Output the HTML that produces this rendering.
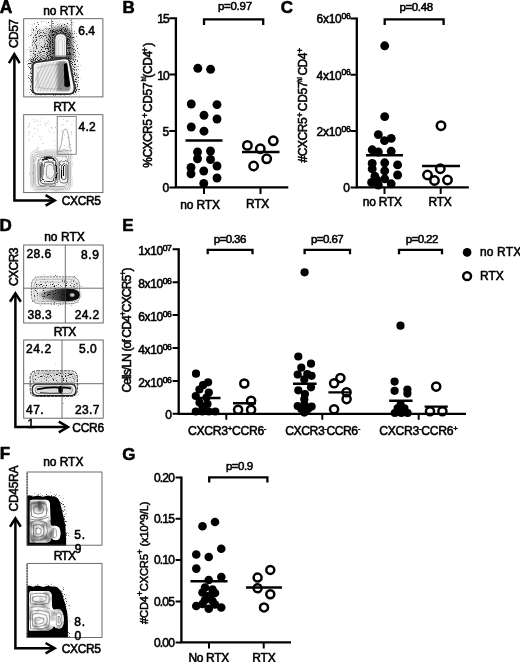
<!DOCTYPE html>
<html><head><meta charset="utf-8"><title>Figure</title>
<style>
html,body{margin:0;padding:0;background:#fff;}
body{width:520px;height:662px;overflow:hidden;}
svg{display:block;font-family:"Liberation Sans",Arial,Helvetica,sans-serif;}
text{stroke:#000;stroke-width:0.55px;stroke-linejoin:round;}
.ax{stroke:#000;stroke-width:2.3;fill:none;stroke-linecap:butt;}
.tk{stroke:#000;stroke-width:2;fill:none;}
.ar{stroke:#000;stroke-width:2.5;fill:none;}
.box{stroke:#5a5a5a;stroke-width:0.9;fill:none;}
.gate{stroke:#4c4c4c;stroke-width:0.8;fill:none;}
.f{fill:#000;}
.o{fill:none;stroke:#000;stroke-width:2.5;}
.m{stroke:#000;stroke-width:2.4;}
</style></head><body>
<svg width="520" height="662" viewBox="0 0 520 662">
<rect width="520" height="662" fill="#fff"/>
<defs>

<filter id="spk" x="-15%" y="-15%" width="130%" height="130%" color-interpolation-filters="sRGB">
<feGaussianBlur in="SourceAlpha" stdDeviation="1.6" result="d"/>
<feTurbulence type="fractalNoise" baseFrequency="0.93" numOctaves="1" seed="5" result="n"/>
<feColorMatrix in="n" type="matrix" values="0 0 0 0 0  0 0 0 0 0  0 0 0 0 0  1 0 0 0 0" result="na"/>
<feComposite in="na" in2="d" operator="arithmetic" k1="0" k2="1" k3="0.45" k4="-0.78" result="s"/>
<feComponentTransfer in="s" result="s2"><feFuncA type="linear" slope="6" intercept="0"/></feComponentTransfer>
<feComponentTransfer in="s2"><feFuncA type="linear" slope="0.82" intercept="0"/></feComponentTransfer>
</filter>
<filter id="spk2" x="-15%" y="-15%" width="130%" height="130%" color-interpolation-filters="sRGB">
<feGaussianBlur in="SourceAlpha" stdDeviation="1.2" result="d"/>
<feTurbulence type="fractalNoise" baseFrequency="0.9" numOctaves="1" seed="11" result="n"/>
<feColorMatrix in="n" type="matrix" values="0 0 0 0 0  0 0 0 0 0  0 0 0 0 0  1 0 0 0 0" result="na"/>
<feComposite in="na" in2="d" operator="arithmetic" k1="0" k2="1" k3="0.45" k4="-0.78" result="s"/>
<feComponentTransfer in="s"><feFuncA type="linear" slope="6" intercept="0"/></feComponentTransfer>
</filter>
<filter id="wob" x="-10%" y="-10%" width="120%" height="120%"><feTurbulence type="fractalNoise" baseFrequency="0.13" numOctaves="2" seed="2" result="t"/><feDisplacementMap in="SourceGraphic" in2="t" scale="3.2" xChannelSelector="R" yChannelSelector="G"/></filter>
<filter id="wob2" x="-10%" y="-10%" width="120%" height="120%"><feTurbulence type="fractalNoise" baseFrequency="0.2" numOctaves="2" seed="7" result="t"/><feDisplacementMap in="SourceGraphic" in2="t" scale="1.6" xChannelSelector="R" yChannelSelector="G"/></filter>
<filter id="tex1" x="0" y="0" width="100%" height="100%" color-interpolation-filters="sRGB"><feTurbulence type="fractalNoise" baseFrequency="0.11 0.09" numOctaves="2" seed="4"/><feColorMatrix type="matrix" values="1.7 0 0 0 0.02  1.7 0 0 0 0.02  1.7 0 0 0 0.02  0 0 0 0 1"/><feComposite in2="SourceAlpha" operator="in"/></filter>
<filter id="tex2" x="0" y="0" width="100%" height="100%" color-interpolation-filters="sRGB"><feTurbulence type="fractalNoise" baseFrequency="0.09 0.11" numOctaves="2" seed="9"/><feColorMatrix type="matrix" values="1.5 0 0 0 0.16  1.5 0 0 0 0.16  1.5 0 0 0 0.16  0 0 0 0 1"/><feComposite in2="SourceAlpha" operator="in"/></filter>
<filter id="fb" x="-20%" y="-20%" width="140%" height="140%"><feGaussianBlur stdDeviation="0.7"/></filter>
<filter id="fb2" x="-30%" y="-30%" width="160%" height="160%"><feGaussianBlur stdDeviation="1.6"/></filter>
<filter id="fb3" x="-30%" y="-30%" width="160%" height="160%"><feGaussianBlur stdDeviation="0.45"/></filter>
</defs>
<g id="fA1">
<clipPath id="cA1"><rect x="24" y="19" width="78.5" height="77.5"/></clipPath>
<g clip-path="url(#cA1)">
<path d="M34 30L70 24L76 58L78 93L33 95L30 60Z" fill="#000" fill-opacity="0.13" filter="url(#fb2)"/>
<path d="M48 60V36Q48 27 60.5 27Q73 27 73 38V60Z" fill="#000" fill-opacity="0.36" filter="url(#fb2)"/>
<g filter="url(#spk)">
<path d="M28 21L74 20L81 60L81 95L29 96L26 62Z" fill="#000" fill-opacity="0.4"/>
<path d="M34 28L71 22L77 58L79 94L32 95L29 60Z" fill="#000" fill-opacity="0.27"/>
<path d="M40 50L50 34L72 30L76 58L40 62Z" fill="#000" fill-opacity="0.2"/>
<path d="M49.5 60V36Q49.5 28 60.5 28Q71.5 28 71.5 38V60Z" fill="#000" fill-opacity="0.5"/>
<path d="M29 58L70 52L78 90L74 96H32L29 90Z" fill="#000" fill-opacity="0.5"/>
</g>
<path d="M32.8 66Q33 62.6 36.5 62L64 58.4Q68.6 58 69.4 61.5L74.4 86Q75.4 94 69 94.2H37.5Q32.6 94 32.6 88.5Z" fill="#fbfbfb" stroke="#333" stroke-width="1.8" filter="url(#fb3)"/>
<path d="M35 66.5Q35.2 64.4 37.5 64L63 60.8Q66.4 60.6 67 63L70.6 86Q71.2 91.4 67 91.6H39Q35 91.4 35 88Z" fill="#e9e9e9"/>
<clipPath id="cA1i"><path d="M35 66.5Q35.2 64.4 37.5 64L63 60.8Q66.4 60.6 67 63L70.6 86Q71.2 91.4 67 91.6H39Q35 91.4 35 88Z"/></clipPath>
<g clip-path="url(#cA1i)">
<g fill="none" stroke="#9c9c9c" stroke-width="0.55" filter="url(#wob2)">
<path d="M30.0 92L44.0 62"/>
<path d="M33.3 92L47.3 62"/>
<path d="M36.6 92L50.6 62"/>
<path d="M39.9 92L53.9 62"/>
<path d="M43.2 92L57.2 62"/>
<path d="M46.5 92L60.5 62"/>
<path d="M49.8 92L63.8 62"/>
<path d="M53.1 92L67.1 62"/>
<path d="M56.4 92L70.4 62"/>
<path d="M37 68Q48 64 60 64.5M37 87Q48 90 62 88.5M38 72Q37 80 38.5 86"/>
</g>
<path d="M57 61L68 60L72 92L57 92Z" fill="#333" fill-opacity="0.5" filter="url(#fb2)"/>
<path d="M44 90.8H68" stroke="#222" stroke-width="2.2" filter="url(#fb)"/>
</g>
<path d="M63.8 64.2Q65.5 62.6 67.2 63.6L70.2 85.5Q67.5 88.5 64.4 86Z" fill="#000" filter="url(#fb3)"/>
<path d="M54.8 57V39.5Q54.8 33.6 60.6 33.6Q66.5 33.6 66.5 39.5V57Z" fill="#f6f6f6" stroke="#333" stroke-width="1"/>
<g fill="none" stroke="#aaa" stroke-width="0.5">
<path d="M56.8 56V41Q56.8 36 60.6 36Q64.5 36 64.5 41V56"/><path d="M58.8 56V43Q58.8 39 60.6 39Q62.5 39 62.5 43V56"/>
</g>
</g></g>
<g id="fA2">
<clipPath id="cA2"><rect x="24" y="115" width="78.5" height="77"/></clipPath>
<g clip-path="url(#cA2)">
<g fill="#bbb">
<circle cx="37.6" cy="121.5" r="0.55"/>
<circle cx="44.8" cy="123.3" r="0.55"/>
<circle cx="30.0" cy="131.7" r="0.55"/>
<circle cx="68.3" cy="145.2" r="0.55"/>
<circle cx="61.4" cy="125.5" r="0.55"/>
<circle cx="51.2" cy="127.4" r="0.55"/>
<circle cx="34.8" cy="121.6" r="0.55"/>
<circle cx="36.6" cy="149.5" r="0.55"/>
<circle cx="64.3" cy="145.4" r="0.55"/>
<circle cx="63.0" cy="124.6" r="0.55"/>
<circle cx="40.9" cy="139.3" r="0.55"/>
<circle cx="59.9" cy="147.1" r="0.55"/>
<circle cx="66.6" cy="120.9" r="0.55"/>
<circle cx="54.3" cy="140.8" r="0.55"/>
<circle cx="49.8" cy="124.0" r="0.55"/>
<circle cx="48.3" cy="121.0" r="0.55"/>
<circle cx="69.1" cy="147.4" r="0.55"/>
<circle cx="51.6" cy="128.2" r="0.55"/>
<circle cx="67.9" cy="137.5" r="0.55"/>
<circle cx="66.7" cy="146.8" r="0.55"/>
<circle cx="49.9" cy="132.1" r="0.55"/>
<circle cx="54.0" cy="132.7" r="0.55"/>
<circle cx="34.3" cy="128.4" r="0.55"/>
<circle cx="63.6" cy="119.5" r="0.55"/>
<circle cx="29.1" cy="139.3" r="0.55"/>
<circle cx="39.6" cy="136.2" r="0.55"/>
<circle cx="48.2" cy="129.7" r="0.55"/>
<circle cx="71.9" cy="124.6" r="0.55"/>
<circle cx="45.6" cy="124.9" r="0.55"/>
<circle cx="55.5" cy="127.4" r="0.55"/>
<circle cx="43.0" cy="143.4" r="0.55"/>
<circle cx="41.4" cy="137.0" r="0.55"/>
<circle cx="67.7" cy="121.4" r="0.55"/>
<circle cx="29.8" cy="125.8" r="0.55"/>
<circle cx="61.4" cy="138.9" r="0.55"/>
<circle cx="37.7" cy="129.3" r="0.55"/>
<circle cx="35.0" cy="133.6" r="0.55"/>
<circle cx="28.9" cy="141.7" r="0.55"/>
<circle cx="67.3" cy="150.5" r="0.55"/>
<circle cx="60.1" cy="150.6" r="0.55"/>
<circle cx="27.8" cy="127.8" r="0.55"/>
<circle cx="70.5" cy="144.4" r="0.55"/>
<circle cx="45.5" cy="150.1" r="0.55"/>
<circle cx="54.9" cy="145.8" r="0.55"/>
<circle cx="40.2" cy="124.5" r="0.55"/>
<circle cx="47.0" cy="122.6" r="0.55"/>
<circle cx="44.2" cy="150.7" r="0.55"/>
<circle cx="41.9" cy="118.3" r="0.55"/>
<circle cx="29.0" cy="123.8" r="0.55"/>
<circle cx="62.3" cy="130.3" r="0.55"/>
<circle cx="40.1" cy="121.3" r="0.55"/>
<circle cx="71.2" cy="132.4" r="0.55"/>
<circle cx="36.4" cy="120.0" r="0.55"/>
<circle cx="29.5" cy="123.7" r="0.55"/>
<circle cx="57.5" cy="123.1" r="0.55"/>
<circle cx="28.8" cy="134.7" r="0.55"/>
<circle cx="38.2" cy="151.9" r="0.55"/>
<circle cx="32.5" cy="136.0" r="0.55"/>
<circle cx="61.8" cy="131.9" r="0.55"/>
<circle cx="71.4" cy="134.2" r="0.55"/>
<circle cx="37.9" cy="132.0" r="0.55"/>
<circle cx="28.7" cy="132.3" r="0.55"/>
<circle cx="38.2" cy="148.2" r="0.55"/>
<circle cx="64.4" cy="135.0" r="0.55"/>
<circle cx="28.4" cy="126.6" r="0.55"/>
<circle cx="37.9" cy="125.1" r="0.55"/>
<circle cx="37.4" cy="147.6" r="0.55"/>
<circle cx="33.4" cy="119.7" r="0.55"/>
<circle cx="68.8" cy="137.2" r="0.55"/>
<circle cx="71.6" cy="131.7" r="0.55"/>
</g>
<path d="M38.5 151.0H64.0Q71.0 151.0 71.0 158.0V183.0Q71.0 190.0 64.0 190.0H38.5Q31.5 190.0 31.5 183.0V158.0Q31.5 151.0 38.5 151.0Z" fill="#f3f3f3"/>
<g fill="none" stroke="#8a8a8a" stroke-width="0.6" filter="url(#wob)">
<path d="M37.6 150.0H65.0Q72.0 150.0 72.0 157.0V184.0Q72.0 191.0 65.0 191.0H37.6Q30.6 191.0 30.6 184.0V157.0Q30.6 150.0 37.6 150.0Z" stroke="#b5b5b5"/>
<path d="M38.0 152.0H64.5Q70.5 152.0 70.5 158.0V183.5Q70.5 189.5 64.5 189.5H38.0Q32.0 189.5 32.0 183.5V158.0Q32.0 152.0 38.0 152.0Z" stroke="#999"/>
<path d="M39.0 154.0H63.5Q69.0 154.0 69.0 159.5V182.5Q69.0 188.0 63.5 188.0H39.0Q33.5 188.0 33.5 182.5V159.5Q33.5 154.0 39.0 154.0Z"/>
<path d="M40.0 156.0H62.5Q67.5 156.0 67.5 161.0V181.5Q67.5 186.5 62.5 186.5H40.0Q35.0 186.5 35.0 181.5V161.0Q35.0 156.0 40.0 156.0Z" stroke="#777"/>
<path d="M43.5 157.5H52.5Q58.0 157.5 58.0 163.0V180.5Q58.0 186.0 52.5 186.0H43.5Q38.0 186.0 38.0 180.5V163.0Q38.0 157.5 43.5 157.5Z" stroke="#555" stroke-width="0.8"/>
<path d="M45.0 159.5H51.5Q56.5 159.5 56.5 164.5V179.0Q56.5 184.0 51.5 184.0H45.0Q40.0 184.0 40.0 179.0V164.5Q40.0 159.5 45.0 159.5Z" stroke="#333" stroke-width="0.9"/>
<path d="M47.5 162.0H50.5Q55.0 162.0 55.0 166.5V177.0Q55.0 181.5 50.5 181.5H47.5Q43.0 181.5 43.0 177.0V166.5Q43.0 162.0 47.5 162.0Z" stroke="#222" stroke-width="0.9"/>
<path d="M49.7 164.5H50.3Q53.5 164.5 53.5 167.7V175.3Q53.5 178.5 50.3 178.5H49.7Q46.5 178.5 46.5 175.3V167.7Q46.5 164.5 49.7 164.5Z" stroke="#666"/>
<path d="M62.7 160.5H64.8Q68.0 160.5 68.0 163.7V179.8Q68.0 183.0 64.8 183.0H62.7Q59.5 183.0 59.5 179.8V163.7Q59.5 160.5 62.7 160.5Z" stroke="#555" stroke-width="0.8"/>
<path d="M63.5 163.5H64.0Q66.0 163.5 66.0 165.5V177.5Q66.0 179.5 64.0 179.5H63.5Q61.5 179.5 61.5 177.5V165.5Q61.5 163.5 63.5 163.5Z" stroke="#333" stroke-width="0.8"/>
</g>
<path d="M42 160Q48 156.5 55.5 160.5M41 163V181M56.5 166V179M63.5 165V176M61.5 170V178" stroke="#111" stroke-width="1.1" fill="none" filter="url(#wob)"/>
<path d="M58.5 151Q61 148 62 140Q63 128.5 65.5 129Q68 129.5 69 140Q70 149 71.5 151M58.5 151.5Q61.5 152.5 64 149.5Q66 151.5 71.5 151" fill="none" stroke="#777" stroke-width="0.6"/>
</g></g>
<g id="fD1">
<clipPath id="cD1"><rect x="24" y="245.5" width="79" height="77.5"/></clipPath>
<linearGradient id="gD1" x1="0" x2="1" y1="0" y2="0"><stop offset="0" stop-color="#000" stop-opacity="0"/><stop offset="0.3" stop-color="#000" stop-opacity="0.4"/><stop offset="0.6" stop-color="#000" stop-opacity="0.8"/><stop offset="0.8" stop-color="#000" stop-opacity="1"/></linearGradient>
<g clip-path="url(#cD1)">
<path d="M40.4 276.8H70.4Q79.4 276.8 79.4 285.8V294.8Q79.4 303.8 70.4 303.8H40.4Q31.4 303.8 31.4 294.8V285.8Q31.4 276.8 40.4 276.8Z" fill="#ececec"/>
<g filter="url(#spk2)">
<path d="M38.5 274.5H73.0Q83.0 274.5 83.0 284.5V296.5Q83.0 306.5 73.0 306.5H38.5Q28.5 306.5 28.5 296.5V284.5Q28.5 274.5 38.5 274.5Z" fill="#000" fill-opacity="0.3"/>
<path d="M41.0 280.0H71.0Q78.0 280.0 78.0 287.0V295.0Q78.0 302.0 71.0 302.0H41.0Q34.0 302.0 34.0 295.0V287.0Q34.0 280.0 41.0 280.0Z" fill="#000" fill-opacity="0.22"/>
</g>
<g fill="none" filter="url(#wob2)">
<path d="M40.4 276.8H70.6Q79.6 276.8 79.6 285.8V294.8Q79.6 303.8 70.6 303.8H40.4Q31.4 303.8 31.4 294.8V285.8Q31.4 276.8 40.4 276.8Z" stroke="#6e6e6e" stroke-width="0.9" stroke-dasharray="2.2 0.9"/>
<path d="M41.5 279.3H69.5Q77.0 279.3 77.0 286.8V294.0Q77.0 301.5 69.5 301.5H41.5Q34.0 301.5 34.0 294.0V286.8Q34.0 279.3 41.5 279.3Z" stroke="#9a9a9a" stroke-width="0.6"/>
<path d="M43.0 282.0H68.0Q74.0 282.0 74.0 288.0V294.0Q74.0 300.0 68.0 300.0H43.0Q37.0 300.0 37.0 294.0V288.0Q37.0 282.0 43.0 282.0Z" stroke="#aaa" stroke-width="0.5"/>
</g>
<g filter="url(#fb2)">
<ellipse cx="60" cy="294.8" rx="21" ry="6.2" fill="#000" fill-opacity="0.3"/>
</g>
<g filter="url(#fb)">
<path d="M40 295Q48 288.6 66 288.4Q79.6 288.4 79.6 294.8Q79.6 301.2 66 301.2Q48 301 40 295Z" fill="url(#gD1)"/>
<ellipse cx="71.3" cy="294.7" rx="7.2" ry="5.6" fill="#0a0a0a"/>
<ellipse cx="72.2" cy="295" rx="2.6" ry="2" fill="#9a9a9a"/><ellipse cx="72.4" cy="295" rx="1.3" ry="1.1" fill="#d8d8d8"/>
</g>
</g></g>
<g id="fD2">
<clipPath id="cD2"><rect x="24" y="340.5" width="79" height="77.5"/></clipPath>
<g clip-path="url(#cD2)">
<path d="M37.2 370.8H70.2Q77.2 370.8 77.2 377.8V389.3Q77.2 396.3 70.2 396.3H37.2Q30.2 396.3 30.2 389.3V377.8Q30.2 370.8 37.2 370.8Z" fill="#f0f0f0"/>
<path d="M36.5 373.0H71.5Q75.5 373.0 75.5 377.0V378.8Q75.5 382.8 71.5 382.8H36.5Q32.5 382.8 32.5 378.8V377.0Q32.5 373.0 36.5 373.0Z" fill="#dcdcdc" filter="url(#fb)"/>
<g filter="url(#spk2)">
<path d="M37.0 368.5H71.0Q80.0 368.5 80.0 377.5V390.5Q80.0 399.5 71.0 399.5H37.0Q28.0 399.5 28.0 390.5V377.5Q28.0 368.5 37.0 368.5Z" fill="#000" fill-opacity="0.3"/>
<path d="M37.0 373.0H71.0Q75.0 373.0 75.0 377.0V378.5Q75.0 382.5 71.0 382.5H37.0Q33.0 382.5 33.0 378.5V377.0Q33.0 373.0 37.0 373.0Z" fill="#000" fill-opacity="0.25"/>
</g>
<g fill="none" filter="url(#wob2)">
<path d="M37.2 370.8H70.4Q77.4 370.8 77.4 377.8V389.5Q77.4 396.5 70.4 396.5H37.2Q30.2 396.5 30.2 389.5V377.8Q30.2 370.8 37.2 370.8Z" stroke="#3c3c3c" stroke-width="1" stroke-dasharray="3 0.8"/>
<path d="M36.6 373.0H71.2Q75.2 373.0 75.2 377.0V379.0Q75.2 383.0 71.2 383.0H36.6Q32.6 383.0 32.6 379.0V377.0Q32.6 373.0 36.6 373.0Z" stroke="#808080" stroke-width="0.6"/>
</g>
<g filter="url(#fb3)">
<path d="M37.8 384.2H70.4Q76.0 384.2 76.0 389.8V390.0Q76.0 395.6 70.4 395.6H37.8Q32.2 395.6 32.2 390.0V389.8Q32.2 384.2 37.8 384.2Z" fill="#ededed" stroke="#1c1c1c" stroke-width="1.2"/>
<path d="M38.6 386.3H68.9Q72.5 386.3 72.5 389.9V390.0Q72.5 393.6 68.9 393.6H38.6Q35.0 393.6 35.0 390.0V389.9Q35.0 386.3 38.6 386.3Z" fill="#dedede" stroke="#666" stroke-width="0.7"/>
</g>
<g filter="url(#fb)">
<path d="M37 389.4Q50 386.6 61 387.8Q66 387 71 388.6" fill="none" stroke="#000" stroke-width="1.7"/>
<ellipse cx="60.6" cy="389.8" rx="2.3" ry="3.7" fill="#000"/>
<path d="M40 392.6Q52 393.8 60 393" fill="none" stroke="#333" stroke-width="0.9"/>
</g>
</g></g>
<g id="fF1">
<clipPath id="cF1"><rect x="26.6" y="472.5" width="75.5" height="73.3"/></clipPath>
<g clip-path="url(#cF1)">
<g filter="url(#spk)">
<path d="M25 493H56Q66 496 68 512L70.5 548H25Z" fill="#000" fill-opacity="0.5"/>
</g>
<path d="M26.4 496.5L29 495.2L33 496.6L38 495.4L43 496.8L48 495.6L52 496.6L54.5 496.2Q58.5 497.5 60.2 503L63.4 516Q65.6 524 65.8 532L66.2 546H26.4Z" fill="#000" filter="url(#fb3)"/>
<path d="M29.8 502Q29.8 499.8 32.5 499.8H45.5Q49.8 499.8 50 505L50.4 523Q50.6 526 53 526Q57 525.4 59 527.6Q60.6 530 60.4 534Q60.2 540.2 56 540.2Q52.6 540.2 51.6 538Q50.8 542.5 46 542.5H29.8Z" fill="#d0d0d0"/>
<path d="M29.8 502Q29.8 499.8 32.5 499.8H45.5Q49.8 499.8 50 505L50.4 523Q50.6 526 53 526Q57 525.4 59 527.6Q60.6 530 60.4 534Q60.2 540.2 56 540.2Q52.6 540.2 51.6 538Q50.8 542.5 46 542.5H29.8Z" fill="#000" filter="url(#tex1)"/>
<g fill="none" stroke="#555" stroke-width="0.7" filter="url(#wob2)">
<path d="M31 504Q38 501 46 504Q48 510 46 516Q38 520 31.5 516Z"/><path d="M33.5 507Q38 505 43 507.5Q44 510 42.5 513Q38 515 34 513Z"/>
<path d="M31 522Q38 519 46.5 523Q48.5 531 46 538.5Q38 541.5 31 539.5Z"/><path d="M33.5 525.5Q38 523 43.5 526Q45 531 43 535.5Q38 538.5 33.5 536.5Z"/><path d="M36 528.5Q38.5 527 41 529Q41.8 531.5 40.5 533.5Q38 535 36 533.5Z"/>
<path d="M30.5 519Q38 521.5 49 517"/>
<path d="M53 528.5Q55 527.5 56.2 529.5L56.6 536Q55.5 538.5 53.4 537.5Z" stroke="#888"/>
</g>
<path d="M30.6 501Q38 500.2 45 500.8Q48.8 501.2 49.2 506L49.8 520" stroke="#fff" stroke-width="0.9" fill="none" filter="url(#fb3)"/>
</g>
<path d="M27.1 473V496" stroke="#333" stroke-width="1.1" stroke-dasharray="1.6 1.2"/>
</g>
<g id="fF2">
<clipPath id="cF2"><rect x="26.6" y="564" width="75.5" height="73.8"/></clipPath>
<g clip-path="url(#cF2)">
<g filter="url(#spk)">
<path d="M25 583H57Q67.5 586 69.5 602L72 640H25Z" fill="#000" fill-opacity="0.5"/>
</g>
<path d="M26.4 586.5L29 585.4L33 586.8L38 585.6L43 587L48 585.8L52 586.8L55 586.4Q59.5 587.6 61.8 593L65.2 604Q67.8 612 67.9 622V638H26.4Z" fill="#000" filter="url(#fb3)"/>
<path d="M29.2 593Q29.2 591 32 591H47Q51.5 591 51.7 596L52 606Q52.4 610.4 55.5 609.6Q59.5 608 62 611.5Q64 615 63.8 620Q63.6 628.4 59.5 628.6Q55.5 628.8 53.6 626Q52.4 630.4 47 630.6H29.2Z" fill="#dcdcdc"/>
<path d="M29.2 593Q29.2 591 32 591H47Q51.5 591 51.7 596L52 606Q52.4 610.4 55.5 609.6Q59.5 608 62 611.5Q64 615 63.8 620Q63.6 628.4 59.5 628.6Q55.5 628.8 53.6 626Q52.4 630.4 47 630.6H29.2Z" fill="#000" filter="url(#tex2)"/>
<g fill="none" stroke="#666" stroke-width="0.65" filter="url(#wob2)">
<path d="M30.5 594.5Q38 592 48.5 594.5Q50.5 599 48.5 603Q38 606 30.5 603.5Z"/><path d="M32.5 597Q38 595 46 597Q47 599 45.5 601Q38 603 32.5 601Z"/>
<path d="M30.5 607.5Q38 605.5 50 608.5"/><path d="M30.5 611.5Q38 609 49 612.5Q51 620 48.5 627Q38 630 30.5 628.5Z"/><path d="M32.5 614.5Q38 612 46.5 615.5Q48.5 620 46 624.5Q38 627.5 32.5 626Z"/><path d="M35 618Q38.5 616 43.5 618.5Q44.5 620.5 43 623Q38.5 625 35 623.5Z"/>
<path d="M56.2 613.5Q59.5 611 61.4 615Q62.4 620 61.4 624.5Q59.5 627.5 56.4 625Z" stroke="#777"/><path d="M58.2 616.5Q59.6 615.5 60.2 618Q60.6 620.5 60 622.5Q59.2 624 58.2 622.5Z" stroke="#444"/>
</g>
<path d="M30 592Q38 591.2 46.5 591.8Q50.6 592.2 50.9 597L51.2 605" stroke="#fff" stroke-width="0.9" fill="none" filter="url(#fb3)"/>
</g>
<path d="M27.1 564.5V586" stroke="#333" stroke-width="1.1" stroke-dasharray="1.6 1.2"/>
</g>

<g font-weight="bold" font-size="17">
<text x="-0.2" y="12.5" font-size="17.5">A</text>
<text x="122.5" y="12.5" font-size="17">B</text>
<text x="280.7" y="12.8" font-size="17">C</text>
<text x="-0.6" y="230.6" font-size="17">D</text>
<text x="122.3" y="230.6" font-size="17">E</text>
<text x="-0.2" y="458.8" font-size="17">F</text>
<text x="122.3" y="459.5" font-size="17">G</text>
</g>
<g id="pA">
<text x="63.3" y="14.7" font-size="12" text-anchor="middle" textLength="40.2" lengthAdjust="spacing">no RTX</text>
<text x="64.5" y="111" font-size="12" text-anchor="middle" textLength="22.7" lengthAdjust="spacing">RTX</text>
<rect x="23.7" y="18.7" width="79.2" height="78.2" class="box"/>
<rect x="51.6" y="18.7" width="20.1" height="37.2" class="gate" style="stroke:#858585"/>
<text x="78.2" y="35.2" font-size="12" textLength="16.8" lengthAdjust="spacing">6.4</text>
<rect x="23.7" y="114.7" width="79.2" height="77.9" class="box"/>
<rect x="57.2" y="116.4" width="19" height="37.9" class="gate" style="stroke:#6a6a6a"/>
<text x="78.6" y="131.2" font-size="12" textLength="17.0" lengthAdjust="spacing">4.2</text>
<text transform="translate(18.1,48) rotate(-90)" font-size="12" textLength="29" lengthAdjust="spacing">CD57</text>
<path class="ar" d="M14.4 55V200.4H54.5"/><path class="ar" d="M8.9 63.2L14.3 54.2L19.7 63.2"/><path class="ar" d="M45.6 195.2L54.7 200.4L45.6 205.6"/>
<text x="61.7" y="205" font-size="12" textLength="39.2" lengthAdjust="spacing">CXCR5</text>
</g>
<g id="pB">
<path class="ax" d="M175.9 17.3V188.6M174.8 187.4H288.3"/>
<path class="tk" d="M169.3 18.2H175M169.3 74.6H175M169.3 131H175M169.3 187.5H175M204 187.5V194M260.5 187.5V194"/>
<path class="ax" d="M204 25V19.3H263.2V25" stroke-width="1.8"/>
<text x="235" y="10.3" font-size="11.5" text-anchor="middle" textLength="34.2" lengthAdjust="spacing">p=0.97</text>
<text x="169.7" y="23.1" font-size="12" text-anchor="end" textLength="12.5" lengthAdjust="spacing">15</text>
<text x="169.7" y="79.5" font-size="12" text-anchor="end" textLength="12.5" lengthAdjust="spacing">10</text>
<text x="169.3" y="135.9" font-size="12" text-anchor="end">5</text>
<text x="169.3" y="192.4" font-size="12" text-anchor="end">0</text>
<text x="200.2" y="208.6" font-size="12" text-anchor="middle" textLength="39.7" lengthAdjust="spacing">no RTX</text>
<text x="257.6" y="208.4" font-size="12" text-anchor="middle" textLength="23.2" lengthAdjust="spacing">RTX</text>
<g transform="translate(151.6,167.7) rotate(-90)" font-size="12" letter-spacing="-0.4"><text><tspan x="0" letter-spacing="-0.55">%CXCR5</tspan><tspan x="49.8" dy="-4" font-size="9">+</tspan><tspan x="55.4" dy="4" letter-spacing="-0.2">CD57</tspan><tspan x="90" dy="0">(CD4</tspan><tspan x="115.3" dy="-4" font-size="9">+</tspan><tspan x="121.3" dy="4">)</tspan></text><text transform="translate(86.2,-5.6) scale(0.7,1)" font-size="8" font-weight="bold" letter-spacing="0">hi</text></g>
<g class="f"><circle cx="197.8" cy="68.3" r="4.45"/><circle cx="210.6" cy="69.3" r="4.45"/><circle cx="191.25" cy="104" r="4.45"/><circle cx="217" cy="104.6" r="4.45"/><circle cx="204" cy="115.3" r="4.45"/><circle cx="217" cy="119" r="4.45"/><circle cx="191.25" cy="127" r="4.45"/><circle cx="204" cy="131.2" r="4.45"/><circle cx="197.5" cy="152" r="4.45"/><circle cx="210.5" cy="151" r="4.45"/><circle cx="197.5" cy="158.75" r="4.45"/><circle cx="210.5" cy="159.5" r="4.45"/><circle cx="191" cy="167.5" r="4.45"/><circle cx="217" cy="166" r="4.45"/><circle cx="191" cy="173.75" r="4.45"/><circle cx="203.75" cy="171" r="4.45"/><circle cx="217" cy="178" r="4.45"/><circle cx="203.75" cy="183.5" r="4.45"/></g>
<path class="m" d="M185.5 140.5H222.5M242 152H279.5"/>
<g class="o"><circle cx="247.4" cy="145.4" r="4.2"/><circle cx="260.3" cy="148.75" r="4.2"/><circle cx="273.3" cy="140.8" r="4.2"/><circle cx="266.7" cy="158.8" r="4.2"/><circle cx="253.6" cy="166" r="4.2"/></g>
</g>
<g id="pC">
<path class="ax" d="M356.8 17.5V188.6M355.7 187.3H468.8"/>
<path class="tk" d="M350.5 18.4H356.5M350.5 74.7H356.5M350.5 131H356.5M350.5 187.4H356.5M384.5 187.5V194M440.7 187.5V194"/>
<path class="ax" d="M384.7 25V19.3H443.6V25" stroke-width="1.8"/>
<text x="416.3" y="10.6" font-size="11.5" text-anchor="middle" textLength="33.5" lengthAdjust="spacing">p=0.48</text>
<text x="316.6" y="23.3" font-size="12" textLength="34.3" lengthAdjust="spacing">6x10<tspan dy="-4.3" font-size="8.7">06</tspan></text>
<text x="316.6" y="79.7" font-size="12" textLength="34.3" lengthAdjust="spacing">4x10<tspan dy="-4.3" font-size="8.7">06</tspan></text>
<text x="316.6" y="136.1" font-size="12" textLength="34.3" lengthAdjust="spacing">2x10<tspan dy="-4.3" font-size="8.7">06</tspan></text>
<text x="350" y="192.3" font-size="12" text-anchor="end">0</text>
<text x="382.4" y="206.4" font-size="12" text-anchor="middle" textLength="39.2" lengthAdjust="spacing">no RTX</text>
<text x="440.1" y="206.4" font-size="12" text-anchor="middle" textLength="23.2" lengthAdjust="spacing">RTX</text>
<g transform="translate(307,162.4) rotate(-90)" font-size="12" letter-spacing="-0.45"><text><tspan x="0">#CXCR5</tspan><tspan x="44.9" dy="-4.2" font-size="9">+</tspan><tspan x="51.2" dy="4.2" letter-spacing="-0.3">CD57</tspan><tspan x="86.8" dy="0">CD4</tspan><tspan x="109.4" dy="-4.2" font-size="9">+</tspan></text><text transform="translate(80.3,-5.2) scale(0.7,1)" font-size="8" font-weight="bold" letter-spacing="0">hi</text></g>
<g class="f"><circle cx="384.7" cy="45.8" r="4.45"/><circle cx="384.7" cy="116.6" r="4.45"/><circle cx="378.3" cy="134.6" r="4.45"/><circle cx="391.2" cy="138.4" r="4.45"/><circle cx="384.5" cy="140.6" r="4.45"/><circle cx="372.2" cy="149.8" r="4.45"/><circle cx="378.3" cy="152" r="4.45"/><circle cx="391.2" cy="151.3" r="4.45"/><circle cx="372.2" cy="163.4" r="4.45"/><circle cx="372.2" cy="168.9" r="4.45"/><circle cx="374.9" cy="176.3" r="4.45"/><circle cx="371.6" cy="182.4" r="4.45"/><circle cx="378.3" cy="185" r="4.45"/><circle cx="384.7" cy="162.8" r="4.45"/><circle cx="384.7" cy="170.9" r="4.45"/><circle cx="384.7" cy="178.8" r="4.45"/><circle cx="397.6" cy="164.9" r="4.45"/><circle cx="397.6" cy="175" r="4.45"/><circle cx="391.2" cy="183.8" r="4.45"/><circle cx="377" cy="180.5" r="4.45"/></g>
<path class="m" d="M366 155.2H403M422 166H460"/>
<g class="o"><circle cx="441" cy="125.7" r="4.2"/><circle cx="440.3" cy="168.75" r="4.2"/><circle cx="427.5" cy="175" r="4.2"/><circle cx="434.5" cy="180.5" r="4.2"/><circle cx="447.5" cy="180" r="4.2"/></g>
</g>
<g id="pD">
<text x="64.5" y="241" font-size="12" text-anchor="middle" textLength="40.7" lengthAdjust="spacing">no RTX</text>
<text x="65" y="336" font-size="12" text-anchor="middle" textLength="22.7" lengthAdjust="spacing">RTX</text>
<rect x="23.7" y="245" width="79.5" height="78" class="box"/>
<path class="gate" d="M65.3 245V323M23.7 288.2H103.2"/>
<text x="26.4" y="257.9" font-size="12" textLength="24.9" lengthAdjust="spacing">28.6</text>
<text x="81.0" y="258.6" font-size="12" textLength="18.0" lengthAdjust="spacing">8.9</text>
<text x="27.6" y="318.7" font-size="12" textLength="24.2" lengthAdjust="spacing">38.3</text>
<text x="74.7" y="318.7" font-size="12" textLength="24.4" lengthAdjust="spacing">24.2</text>
<rect x="23.7" y="340" width="79.5" height="78.2" class="box"/>
<path class="gate" d="M62 340V418.2M23.7 383.7H103.2"/>
<text x="26.0" y="353.4" font-size="12" textLength="25.2" lengthAdjust="spacing">24.2</text>
<text x="79.1" y="353.4" font-size="12" textLength="17.7" lengthAdjust="spacing">5.0</text>
<text x="26.0" y="413.8" font-size="12" textLength="17.7" lengthAdjust="spacing">47.</text>
<text x="75.0" y="413.8" font-size="12" textLength="24.5" lengthAdjust="spacing">23.7</text>
<text x="27.6" y="427.9" font-size="12">1</text>
<text transform="translate(18.1,286) rotate(-90)" font-size="12" textLength="38.5" lengthAdjust="spacing">CXCR3</text>
<path class="ar" d="M15.4 294.5V427H67.8"/><path class="ar" d="M10 301.8L15.4 293.4L20.8 301.8"/><path class="ar" d="M58.8 421.6L68 427L58.8 432.4"/>
<text x="72.2" y="431.8" font-size="12" textLength="32.0" lengthAdjust="spacing">CCR6</text>
</g>
<g id="pE">
<path class="ax" d="M178.7 248.3V414.9M177.6 413.8H466"/>
<path class="tk" d="M172.6 249.3H178.4M172.6 282.2H178.4M172.6 315.1H178.4M172.6 348H178.4M172.6 380.9H178.4M172.6 413.8H178.4M226.3 413.8V419.8M322.3 413.8V419.8M418.7 413.8V419.8"/>
<path class="ax" d="M207.7 254.3V249.8H252.5V254.3M304.6 254.3V249.8H350V254.3M399 254.3V249.8H442V254.3" stroke-width="1.8"/>
<text x="230" y="242.7" font-size="11.5" text-anchor="middle" textLength="32.7" lengthAdjust="spacing">p=0.36</text>
<text x="327.3" y="242.7" font-size="11.5" text-anchor="middle" textLength="32.7" lengthAdjust="spacing">p=0.67</text>
<text x="422" y="242.7" font-size="11.5" text-anchor="middle" textLength="32.7" lengthAdjust="spacing">p=0.22</text>
<text x="138.3" y="255.4" font-size="12" textLength="33.6" lengthAdjust="spacing">1x10<tspan dy="-4.3" font-size="8.7">07</tspan></text>
<text x="138.3" y="288.3" font-size="12" textLength="33.6" lengthAdjust="spacing">8x10<tspan dy="-4.3" font-size="8.7">06</tspan></text>
<text x="138.3" y="321.2" font-size="12" textLength="33.6" lengthAdjust="spacing">6x10<tspan dy="-4.3" font-size="8.7">06</tspan></text>
<text x="138.3" y="354.1" font-size="12" textLength="33.6" lengthAdjust="spacing">4x10<tspan dy="-4.3" font-size="8.7">06</tspan></text>
<text x="138.3" y="387.0" font-size="12" textLength="33.6" lengthAdjust="spacing">2x10<tspan dy="-4.3" font-size="8.7">06</tspan></text>
<text x="171.9" y="418.6" font-size="12" text-anchor="end">0</text>
<text transform="translate(130.9,392.6) rotate(-90)" font-size="12" textLength="125" lengthAdjust="spacing">Cells/LN (of CD4<tspan dy="-5" font-size="8.5">+</tspan><tspan dy="5">CXCR5</tspan><tspan dy="-5" font-size="8.5">+</tspan><tspan dy="5">)</tspan></text>
<text x="188" y="435.2" font-size="12.2" textLength="78.5" lengthAdjust="spacing">CXCR3<tspan dy="-3.8" font-size="8">+</tspan><tspan dy="3.8">CCR6</tspan><tspan dy="-3.8" font-size="8">-</tspan></text>
<text x="285.3" y="435.2" font-size="12.2" textLength="75" lengthAdjust="spacing">CXCR3<tspan dy="-3.8" font-size="8">-</tspan><tspan dy="3.8">CCR6</tspan><tspan dy="-3.8" font-size="8">-</tspan></text>
<text x="379.3" y="435.2" font-size="12.2" textLength="78.5" lengthAdjust="spacing">CXCR3<tspan dy="-3.8" font-size="8">-</tspan><tspan dy="3.8">CCR6</tspan><tspan dy="-3.8" font-size="8">+</tspan></text>
<g class="f"><circle cx="196" cy="373.7" r="4.1"/><circle cx="208.1" cy="382.3" r="4.1"/><circle cx="203" cy="385.2" r="4.1"/><circle cx="199.4" cy="389.5" r="4.1"/><circle cx="208.8" cy="392.5" r="4.1"/><circle cx="195.8" cy="396" r="4.1"/><circle cx="206.5" cy="397.5" r="4.1"/><circle cx="199.5" cy="402.5" r="4.1"/><circle cx="207.5" cy="404" r="4.1"/><circle cx="195.8" cy="411.5" r="4.1"/><circle cx="202.3" cy="411.5" r="4.1"/><circle cx="208.8" cy="411.5" r="4.1"/><circle cx="215.3" cy="411.5" r="4.1"/><circle cx="202.5" cy="406.5" r="4.1"/><circle cx="304.6" cy="272.3" r="4.1"/><circle cx="298.3" cy="356.5" r="4.1"/><circle cx="311" cy="363.7" r="4.1"/><circle cx="301.3" cy="367.7" r="4.1"/><circle cx="307.3" cy="374" r="4.1"/><circle cx="297.7" cy="374.6" r="4.1"/><circle cx="311.6" cy="375.8" r="4.1"/><circle cx="304.3" cy="379.4" r="4.1"/><circle cx="311" cy="387.3" r="4.1"/><circle cx="298.3" cy="390.3" r="4.1"/><circle cx="304.9" cy="394" r="4.1"/><circle cx="304.3" cy="399.3" r="4.1"/><circle cx="297.7" cy="406" r="4.1"/><circle cx="311.6" cy="406.6" r="4.1"/><circle cx="301.3" cy="409" r="4.1"/><circle cx="308" cy="409" r="4.1"/><circle cx="304.3" cy="412.6" r="4.1"/><circle cx="304.5" cy="404.5" r="4.1"/><circle cx="400.5" cy="325.7" r="4.1"/><circle cx="394.6" cy="381.6" r="4.1"/><circle cx="394.6" cy="390.8" r="4.1"/><circle cx="407.4" cy="389.6" r="4.1"/><circle cx="407.4" cy="393.6" r="4.1"/><circle cx="394.8" cy="413" r="4.1"/><circle cx="401.4" cy="413" r="4.1"/><circle cx="407.6" cy="413" r="4.1"/><circle cx="400.6" cy="404.6" r="4.1"/><circle cx="397.6" cy="408.4" r="4.1"/><circle cx="404.4" cy="408.4" r="4.1"/></g>
<path class="m" d="M195 398H220.5M233 403.2H256M293 383.7H316.6M328.4 392.4H351M389.2 400.8H412.6M424.6 406.6H447.8"/>
<g class="o"><circle cx="244.3" cy="383.5" r="4.05"/><circle cx="251.1" cy="400.8" r="4.05"/><circle cx="238.1" cy="409.7" r="4.05"/><circle cx="251.1" cy="409.7" r="4.05"/><circle cx="340.4" cy="378" r="4.05"/><circle cx="334.1" cy="383.3" r="4.05"/><circle cx="346.6" cy="392.2" r="4.05"/><circle cx="346.6" cy="399.1" r="4.05"/><circle cx="334.1" cy="409.2" r="4.05"/><circle cx="436.2" cy="386.6" r="4.05"/><circle cx="430" cy="411.3" r="4.05"/><circle cx="442.4" cy="411.3" r="4.05"/></g>
<circle class="f" cx="467.1" cy="252.4" r="4.3"/><circle class="o" cx="467.1" cy="276.2" r="3.9" stroke-width="2.6"/>
<text x="480.0" y="255.8" font-size="12" textLength="41.2" lengthAdjust="spacing">no RTX</text>
<text x="480.0" y="279.6" font-size="12" textLength="23.7" lengthAdjust="spacing">RTX</text>
</g>
<g id="pF">
<text x="63.3" y="466" font-size="12" text-anchor="middle" textLength="40.2" lengthAdjust="spacing">no RTX</text>
<text x="64.8" y="560" font-size="12" text-anchor="middle" textLength="22.2" lengthAdjust="spacing">RTX</text>
<rect x="27.1" y="472" width="74.9" height="73.2" class="box"/>
<rect x="27.1" y="563.4" width="74.9" height="74.1" class="box"/>
<text x="74.2" y="539.2" font-size="12" textLength="10.8" lengthAdjust="spacing">5.</text>
<text x="74.8" y="552.8" font-size="12">9</text>
<text x="74.2" y="626.2" font-size="12" textLength="10.8" lengthAdjust="spacing">8.</text>
<text x="74.6" y="639.8" font-size="12">0</text>
<text transform="translate(18.1,511.5) rotate(-90)" font-size="12" textLength="46" lengthAdjust="spacing">CD45RA</text>
<path class="ar" d="M15.4 519.5V648.2H54.5"/><path class="ar" d="M10 526.8L15.4 518.4L20.8 526.8"/><path class="ar" d="M45.6 643L54.7 648.2L45.6 653.4"/>
<text x="61.7" y="653" font-size="12" textLength="39.2" lengthAdjust="spacing">CXCR5</text>
</g>
<g id="pG">
<path class="ax" d="M181.4 476.4V643.5M180.3 642.3H291"/>
<path class="tk" d="M175.6 477.4H181M175.6 518.8H181M175.6 560.1H181M175.6 601.4H181M175.6 642.4H181M209 642.4V648.5M263.7 642.4V648.5"/>
<path class="ax" d="M209.2 482.6V477.4H267.4V482.6" stroke-width="1.8"/>
<text x="239.5" y="470.3" font-size="11.5" text-anchor="middle" textLength="27.2" lengthAdjust="spacing">p=0.9</text>
<text x="174.9" y="481.5" font-size="12" text-anchor="end" textLength="21.0" lengthAdjust="spacing">0.20</text>
<text x="174.9" y="522.9" font-size="12" text-anchor="end" textLength="21.0" lengthAdjust="spacing">0.15</text>
<text x="174.9" y="564.2" font-size="12" text-anchor="end" textLength="21.0" lengthAdjust="spacing">0.10</text>
<text x="174.9" y="605.5" font-size="12" text-anchor="end" textLength="21.0" lengthAdjust="spacing">0.05</text>
<text x="174.9" y="646.5" font-size="12" text-anchor="end" textLength="21.0" lengthAdjust="spacing">0.00</text>
<text x="208.8" y="662.2" font-size="12" text-anchor="middle" textLength="40.7" lengthAdjust="spacing">No RTX</text>
<text x="264" y="662.2" font-size="12" text-anchor="middle" textLength="23.7" lengthAdjust="spacing">RTX</text>
<text transform="translate(148.2,624) rotate(-90)" font-size="11.2" textLength="122.5" lengthAdjust="spacing">#CD4<tspan dy="-5" font-size="8.5">+</tspan><tspan dy="5">CXCR5</tspan><tspan dy="-5" font-size="8.5">+</tspan><tspan dy="5"> (x10^9/L)</tspan></text>
<g class="f"><circle cx="215" cy="522" r="4.3"/><circle cx="202.5" cy="526.25" r="4.3"/><circle cx="221.25" cy="548.75" r="4.3"/><circle cx="196.25" cy="554.5" r="4.3"/><circle cx="208.75" cy="557" r="4.3"/><circle cx="196.3" cy="568.6" r="4.3"/><circle cx="221.3" cy="577" r="4.3"/><circle cx="208.75" cy="580" r="4.3"/><circle cx="205" cy="587.5" r="4.3"/><circle cx="212.5" cy="589.5" r="4.3"/><circle cx="202.5" cy="592.5" r="4.3"/><circle cx="215" cy="593" r="4.3"/><circle cx="208.75" cy="596" r="4.3"/><circle cx="205" cy="600" r="4.3"/><circle cx="212.5" cy="601" r="4.3"/><circle cx="196.25" cy="606" r="4.3"/><circle cx="202.5" cy="604" r="4.3"/><circle cx="208.75" cy="608.75" r="4.3"/><circle cx="215" cy="604.5" r="4.3"/><circle cx="221.25" cy="607.5" r="4.3"/></g>
<path class="m" d="M190.5 581.25H227.5M246 587.5H282"/>
<g class="o"><circle cx="270.3" cy="569.9" r="4.0"/><circle cx="257.6" cy="577.6" r="4.0"/><circle cx="257.6" cy="588.3" r="4.0"/><circle cx="270.3" cy="594.2" r="4.0"/><circle cx="264" cy="607.4" r="4.0"/></g>
</g>
</svg></body></html>
